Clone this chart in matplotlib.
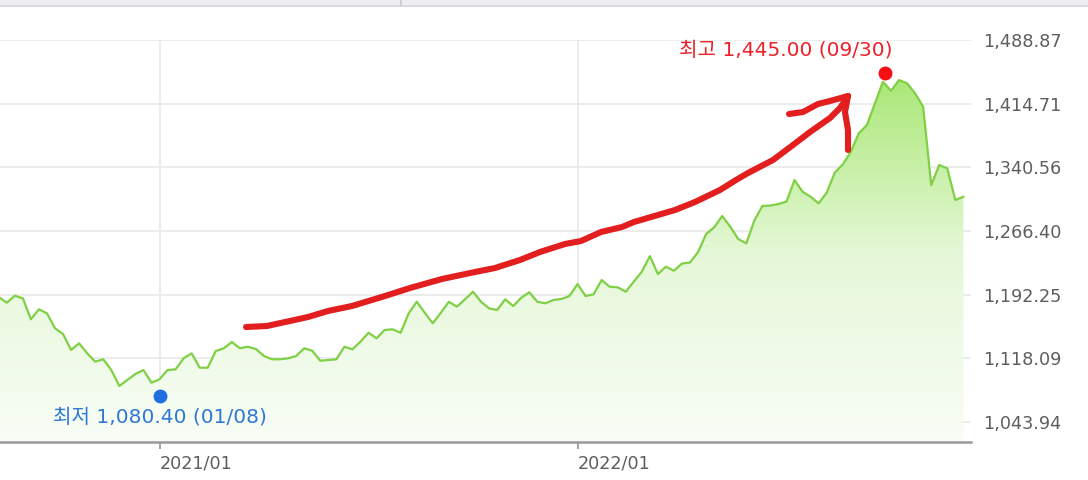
import numpy as np
import pandas as pd
import matplotlib
matplotlib.use("Agg")
import matplotlib.pyplot as plt
import matplotlib.dates as mdates
from matplotlib.colors import LinearSegmentedColormap
from matplotlib.transforms import offset_copy
from matplotlib.lines import Line2D
from matplotlib.patches import Rectangle

plt.rcParams['font.family'] = ['DejaVu Sans', 'Noto Sans CJK KR']

# ---------------- data (weekly USD/KRW, Fridays) ----------------
start_date = "2020-08-21"
rate = [
    1189.5, 1182.9, 1191.0, 1188.0, 1163.6, 1175.2, 1170.5, 1153.1, 1146.4, 1127.8,
    1135.6, 1123.9, 1114.2, 1117.0, 1104.5, 1085.9, 1092.9, 1099.8, 1104.5, 1089.7,
    1093.7, 1104.5, 1105.3, 1118.1, 1123.9, 1107.2, 1107.2, 1126.6, 1129.8, 1137.1,
    1129.8, 1131.6, 1128.9, 1120.8, 1117.0, 1117.0, 1118.1, 1120.8, 1129.8, 1127.0,
    1115.3, 1116.1, 1117.0, 1131.6, 1128.6, 1137.5, 1147.9, 1141.4, 1151.1, 1151.9,
    1147.9, 1170.5, 1184.0, 1171.2, 1158.9, 1171.2, 1184.0, 1178.2, 1186.8, 1195.7,
    1184.0, 1176.3, 1174.4, 1186.8, 1179.0, 1188.7, 1195.0, 1184.0, 1182.2, 1186.0,
    1187.2, 1190.7, 1204.6, 1190.7, 1192.6, 1209.3, 1201.5, 1200.8, 1195.7, 1207.3,
    1219.0, 1237.2, 1216.3, 1224.8, 1220.1, 1228.5, 1229.7, 1241.9, 1262.9, 1270.7,
    1283.8, 1271.4, 1257.0, 1252.0, 1278.6, 1295.5, 1296.1, 1297.8, 1300.7, 1325.8,
    1312.1, 1306.3, 1298.6, 1311.0, 1334.3, 1344.0, 1358.7, 1380.2, 1389.8, 1415.1,
    1440.2, 1429.8, 1442.2, 1438.4, 1426.7, 1411.1, 1319.9, 1343.2, 1339.4, 1302.5,
    1306.3,
]
dates = pd.date_range(start_date, periods=len(rate), freq="7D")

y_ticks = [1043.94, 1118.09, 1192.25, 1266.40, 1340.56, 1414.71, 1488.87]
y_tick_labels = ["1,043.94", "1,118.09", "1,192.25", "1,266.40",
                 "1,340.56", "1,414.71", "1,488.87"]
x_ticks = ["2021-01-08", "2022-01-07"]
x_tick_labels = ["2021/01", "2022/01"]

low_date, low_value, low_label = "2021-01-08", 1080.40, "최저 1,080.40 (01/08)"
high_date, high_value, high_label = "2022-09-30", 1445.00, "최고 1,445.00 (09/30)"

# hand-drawn red arrow strokes (figure pixel coordinates, origin top-left)
arrow_main = [(246, 327), (267, 326), (308, 317), (328, 311), (352, 306), (385, 296),
              (410, 288), (442, 279), (475, 272), (495, 268), (520, 260), (540, 252),
              (565, 244), (581, 241), (601, 232), (622, 227), (634, 222), (675, 210),
              (695, 202), (720, 190), (736, 180), (748, 173), (773, 160), (793, 145),
              (810, 132), (830, 118), (840, 108), (848, 96)]
arrow_upper = [(789, 114), (803, 112), (818, 104), (830, 101), (848, 96)]
arrow_down = [(848, 96), (845, 112), (848, 130), (848, 150)]

# ---------------- figure ----------------
W, H = 1088, 480
fig = plt.figure(figsize=(W / 100, H / 100), dpi=100)
fig.patch.set_facecolor("white")

# page chrome at the top
fig.add_artist(Rectangle((0, 1 - 5 / H), 1, 5 / H, transform=fig.transFigure,
                         facecolor="#eeeef2", edgecolor="none"))
fig.add_artist(Line2D([0, 1], [1 - 5.5 / H] * 2, transform=fig.transFigure,
                      color="#d2d2da", lw=1.2))
fig.add_artist(Line2D([401 / W] * 2, [1, 1 - 5 / H], transform=fig.transFigure,
                      color="#c8c8d0", lw=1.2))

ax_l, ax_r, ax_t, ax_b = 0, 971, 40, 442
ax = fig.add_axes([ax_l / W, 1 - ax_b / H, (ax_r - ax_l) / W, (ax_b - ax_t) / H])
ax.set_facecolor("white")

ymin = 1043.94 - (ax_b - 422) * (1488.87 - 1043.94) / (422 - ax_t)
ymax = 1488.87
ref0 = mdates.date2num(pd.Timestamp("2021-01-08"))
ref1 = mdates.date2num(pd.Timestamp("2022-01-07"))
ppd = (577.5 - 159.5) / (ref1 - ref0)
xmin = ref0 - 159.5 / ppd
xmax = ref1 + (ax_r - 577.5) / ppd
ax.set_xlim(xmin, xmax)
ax.set_ylim(ymin, ymax)

# gradient fill under the line
poly = ax.fill_between(dates, rate, ymin, facecolor="none", edgecolor="none", zorder=1)
cmap = LinearSegmentedColormap.from_list("g", ["#f9fdf6", "#e6f8d9", "#a9e774"])
grad = np.linspace(0, 1, 256).reshape(-1, 1)
im = ax.imshow(grad, extent=[xmin, xmax, ymin, 1450], origin="lower", aspect="auto",
               cmap=cmap, zorder=1, interpolation="bilinear")
im.set_clip_path(poly.get_paths()[0], transform=ax.transData)
ax.set_xlim(xmin, xmax)
ax.set_ylim(ymin, ymax)

ax.plot(dates, rate, color="#7fd044", lw=1.6, zorder=3, solid_joinstyle="round")

# grid
ax.set_yticks(y_ticks)
ax.set_yticklabels(y_tick_labels)
ax.set_xticks([mdates.date2num(pd.Timestamp(d)) for d in x_ticks])
ax.set_xticklabels(x_tick_labels, ha="left")
ax.grid(True, color="#ebebeb", lw=1.3, zorder=0)
ax.set_axisbelow(True)

for s in ["top", "left", "right"]:
    ax.spines[s].set_visible(False)
ax.spines["bottom"].set_color("#9a9a9a")
ax.spines["bottom"].set_linewidth(1.8)
ax.spines["bottom"].set_zorder(5)

ax.yaxis.tick_right()
ax.tick_params(axis="y", length=0, pad=9, labelsize=12.7, labelcolor="#5e5e5e")
ax.tick_params(axis="x", length=5, width=1.3, color="#9a9a9a", direction="out",
               pad=4, labelsize=12.7, labelcolor="#5e5e5e")
for lbl in ax.get_xticklabels():
    lbl.set_x(lbl.get_position()[0])

# min / max markers
lo_x = mdates.date2num(pd.Timestamp(low_date))
hi_x = mdates.date2num(pd.Timestamp(high_date))
ax.plot([lo_x], [low_value], "o", ms=9, color="#1f6fe0", zorder=6, clip_on=False,
        transform=offset_copy(ax.transData, fig=fig, x=0, y=-5, units="dots"))
ax.plot([hi_x], [high_value], "o", ms=9, color="#f50f14", zorder=6, clip_on=False,
        transform=offset_copy(ax.transData, fig=fig, x=2, y=5, units="dots"))
ax.annotate(low_label, (lo_x, low_value), xytext=(0, -26), textcoords="offset pixels",
            ha="center", va="center", color="#2f78d6", fontsize=14.5, zorder=7)
ax.annotate(high_label, (hi_x, high_value), xytext=(10, 28), textcoords="offset pixels",
            ha="right", va="center", color="#ee2028", fontsize=14.5, zorder=7)

# red hand-drawn arrow
for stroke in (arrow_main, arrow_upper, arrow_down):
    xs = [p[0] for p in stroke]
    ys = [H - p[1] for p in stroke]
    fig.add_artist(Line2D(xs, ys, transform=None, color="#e31e1e", lw=4.4,
                          solid_capstyle="round", solid_joinstyle="round", zorder=10))

fig.savefig("out.png", dpi=100)
